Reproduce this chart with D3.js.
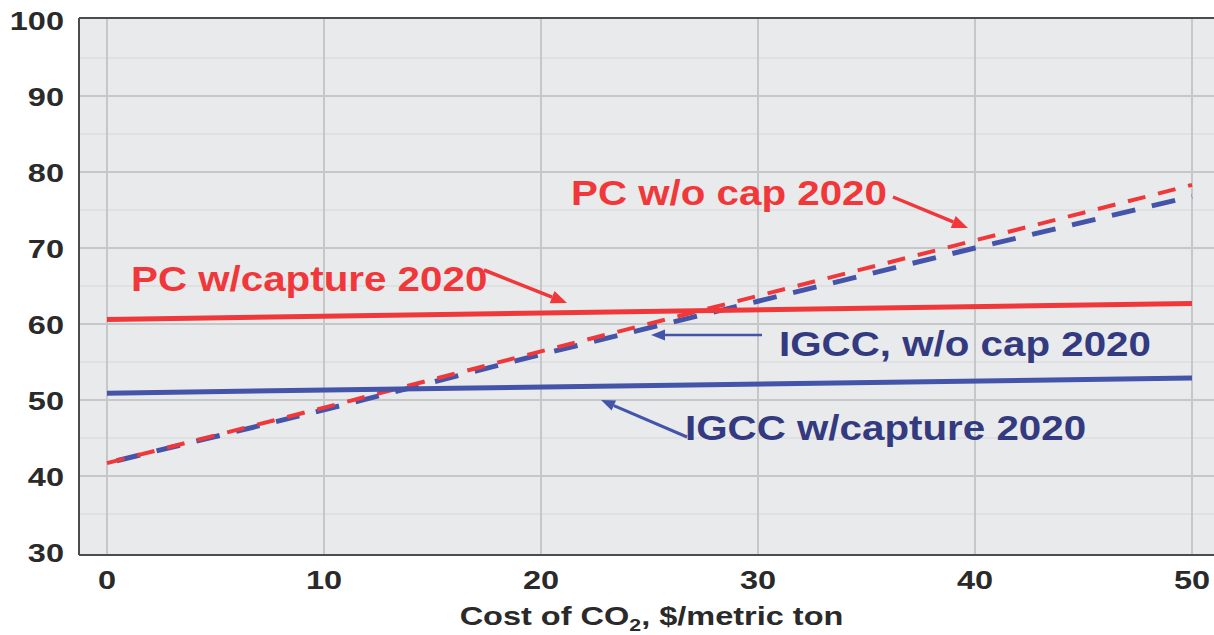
<!DOCTYPE html>
<html><head><meta charset="utf-8">
<script src="https://cdn.jsdelivr.net/npm/d3@7"></script>
<style>
html,body{margin:0;padding:0;background:#fff;overflow:hidden}
text{font-family:"Liberation Sans",Arial,sans-serif;font-weight:bold}
</style></head>
<body>
<svg id="c" width="1214" height="635"></svg>
<script>
// ---- data ----
const costX = [0, 10, 20, 30, 40, 50];
const pcNoCap = [41.7, 49.0, 56.4, 63.7, 71.0, 78.3];
const igccNoCap = [41.7, 48.7, 56.0, 63.0, 70.0, 76.8];
const capX = [0, 50];
const pcCapture = [60.6, 62.7];
const igccCapture = [50.9, 52.9];
const xTicks = [0, 10, 20, 30, 40, 50];
const yTicks = [30, 40, 50, 60, 70, 80, 90, 100];
const yMinor = [35, 45, 55, 65, 75, 85, 95];
const labels = {
  pcNoCap: "PC w/o cap 2020",
  pcCap: "PC w/capture 2020",
  igccNoCap: "IGCC, w/o cap 2020",
  igccCap: "IGCC w/capture 2020"
};

const svg = d3.select("#c");
const x = d3.scaleLinear().domain([0, 50]).range([107, 1192]);
const y = d3.scaleLinear().domain([30, 100]).range([552, 20]);

const RED = "#f0383a", BLUE = "#4454a8", NAVY = "#343a80";
const plotL = 79, plotT = 18, plotB = 555, plotR = 1230;

// background
svg.append("rect").attr("x", plotL).attr("y", plotT).attr("width", plotR - plotL).attr("height", plotB - plotT).attr("fill", "#e9eaec");

// grid
svg.selectAll(".gmin").data(yMinor).join("line")
  .attr("x1", plotL).attr("x2", plotR).attr("y1", d => y(d)).attr("y2", d => y(d))
  .attr("stroke", "#dcdddf").attr("stroke-width", 1.5);
svg.selectAll(".gmaj").data(yTicks.filter(d => d > 30 && d < 100)).join("line")
  .attr("x1", plotL).attr("x2", plotR).attr("y1", d => y(d)).attr("y2", d => y(d))
  .attr("stroke", "#c6c7c9").attr("stroke-width", 2);
svg.selectAll(".gx").data(xTicks).join("line")
  .attr("x1", d => x(d)).attr("x2", d => x(d)).attr("y1", plotT).attr("y2", plotB)
  .attr("stroke", "#c6c7c9").attr("stroke-width", 2);

// frame
svg.append("line").attr("x1", plotL).attr("x2", plotR).attr("y1", plotT).attr("y2", plotT).attr("stroke", "#4a4d4f").attr("stroke-width", 2);
svg.append("line").attr("x1", plotL).attr("x2", plotR).attr("y1", plotB).attr("y2", plotB).attr("stroke", "#4a4d4f").attr("stroke-width", 2);
svg.append("line").attr("x1", plotL).attr("x2", plotL).attr("y1", plotT).attr("y2", plotB).attr("stroke", "#4a4d4f").attr("stroke-width", 2);

// tick labels
svg.selectAll(".yt").data(yTicks).join("text")
  .attr("transform", d => `translate(64,${y(d) + 9.5}) scale(1.25,1)`)
  .attr("text-anchor", "end").attr("font-size", 26).attr("fill", "#2a2a2a").text(d => d);
svg.selectAll(".xt").data(xTicks).join("text")
  .attr("transform", d => `translate(${x(d)},589) scale(1.25,1)`)
  .attr("text-anchor", "middle").attr("font-size", 26).attr("fill", "#2a2a2a").text(d => d);

// axis title
const t = svg.append("text").attr("transform", `translate(${x(25) + 2},625) scale(1.25,1)`)
  .attr("text-anchor", "middle").attr("font-size", 26).attr("fill", "#2a2a2a");
t.append("tspan").text("Cost of CO");
t.append("tspan").attr("font-size", 17).attr("dy", 6).text("2");
t.append("tspan").attr("dy", -6).text(", $/metric ton");

// lines
const line = d3.line().x(d => x(d[0])).y(d => y(d[1]));
svg.append("path").datum(costX.map((c, i) => [c, igccNoCap[i]])).attr("d", line)
  .attr("fill", "none").attr("stroke", BLUE).attr("stroke-width", 5).attr("stroke-dasharray", "24,17").attr("stroke-dashoffset", -10);
svg.append("path").datum(costX.map((c, i) => [c, pcNoCap[i]])).attr("d", line)
  .attr("fill", "none").attr("stroke", RED).attr("stroke-width", 4).attr("stroke-dasharray", "18,13");
svg.append("path").datum(capX.map((c, i) => [c, igccCapture[i]])).attr("d", line)
  .attr("fill", "none").attr("stroke", BLUE).attr("stroke-width", 5);
svg.append("path").datum(capX.map((c, i) => [c, pcCapture[i]])).attr("d", line)
  .attr("fill", "none").attr("stroke", RED).attr("stroke-width", 5);

// arrows
function arrow(x1, y1, x2, y2, color, w, hl, hw) {
  const a = Math.atan2(y2 - y1, x2 - x1);
  const bx = x2 - hl * Math.cos(a), by = y2 - hl * Math.sin(a);
  svg.append("line").attr("x1", x1).attr("y1", y1).attr("x2", bx).attr("y2", by)
    .attr("stroke", color).attr("stroke-width", w);
  const px = -Math.sin(a) * hw / 2, py = Math.cos(a) * hw / 2;
  svg.append("path").attr("d", `M${x2},${y2}L${bx + px},${by + py}L${bx - px},${by - py}Z`).attr("fill", color);
}
arrow(893, 197, 968, 228, RED, 3.5, 16, 13);
arrow(484, 270, 567, 303, RED, 3.5, 16, 13);
arrow(762, 335, 651, 335, BLUE, 2.5, 14, 11);
arrow(687, 437, 601, 400, BLUE, 3, 14, 11);

// annotations
function ann(txt, xx, yy, color) {
  svg.append("text").attr("transform", `translate(${xx},${yy}) scale(1.12,1)`)
    .attr("font-size", 36).attr("fill", color).text(txt);
}
ann(labels.pcNoCap, 571, 205, RED);
ann(labels.pcCap, 131, 291, RED);
ann(labels.igccNoCap, 779, 356, NAVY);
ann(labels.igccCap, 685, 440, NAVY);
</script>
</body></html>
